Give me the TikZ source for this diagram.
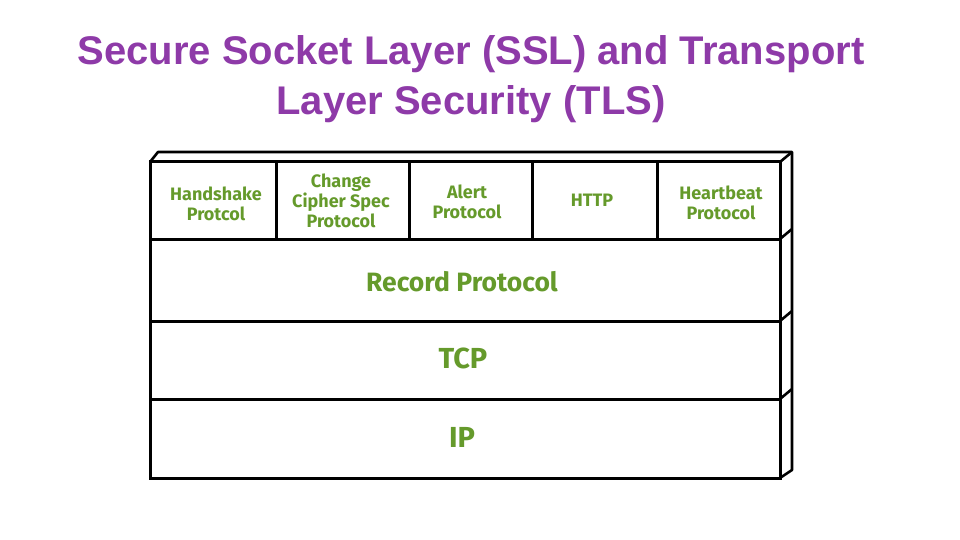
\documentclass[tikz,border=0pt]{standalone}
\usepackage{fontspec}
\setmainfont{Liberation Sans}
\newfontfamily\handfont{Fira Sans}
\definecolor{titlepurple}{HTML}{8E3AA8}
\definecolor{labelgreen}{HTML}{659A2B}
\begin{document}
\begin{tikzpicture}[x=1pt,y=-1pt,
  lbl/.style={text=labelgreen,font=\handfont\bfseries\fontsize{18}{20}\selectfont,align=center,inner sep=0pt},
  big/.style={lbl,font=\handfont\bfseries\fontsize{26.5}{26}\selectfont},
  bigger/.style={lbl,font=\handfont\bfseries\fontsize{29}{29}\selectfont},
  edge/.style={line width=2.6pt,line join=round},
  wall/.style={line width=3pt}]
\useasboundingbox (0,0) rectangle (960,540);
% title
\node[text=titlepurple,font=\bfseries\fontsize{40}{50}\selectfont,align=center] (title) at (471,79)
  {Secure Socket Layer (SSL) and Transport\\Layer Security (TLS)};
% back faces
\coordinate (bl) at (158,152);
\coordinate (br) at (792,152);
\coordinate (bb) at (792,470);
\draw[edge] (150,162) -- (bl) -- (br) -- (bb) -- (780,478);
\draw[edge] (780,162) -- (br);
\foreach \yy in {239,321,399} { \draw[edge] (780,\yy) -- (792,\yy-10); }
% front face
\draw[wall] (150,162) rectangle (780,478);
\foreach \yy in {239,321,399} { \draw[wall] (150,\yy) -- (780,\yy); }
\foreach \xx in {276,409,532,657} { \draw[wall] (\xx,162) -- (\xx,239); }
\node[lbl] (hs) at (216,204) {Handshake\\Protcol};
\node[lbl] (ccs) at (341,201) {Change\\Cipher Spec\\Protocol};
\node[lbl] (al) at (467,202) {Alert\\Protocol};
\node[lbl] (http) at (592,200) {HTTP};
\node[lbl] (hb) at (721,203) {Heartbeat\\Protocol};
\node[big] (rec) at (462,282) {Record Protocol};
\node[bigger] (tcp) at (463,358) {TCP};
\node[bigger] (ip) at (462,437) {IP};
\end{tikzpicture}
\end{document}
